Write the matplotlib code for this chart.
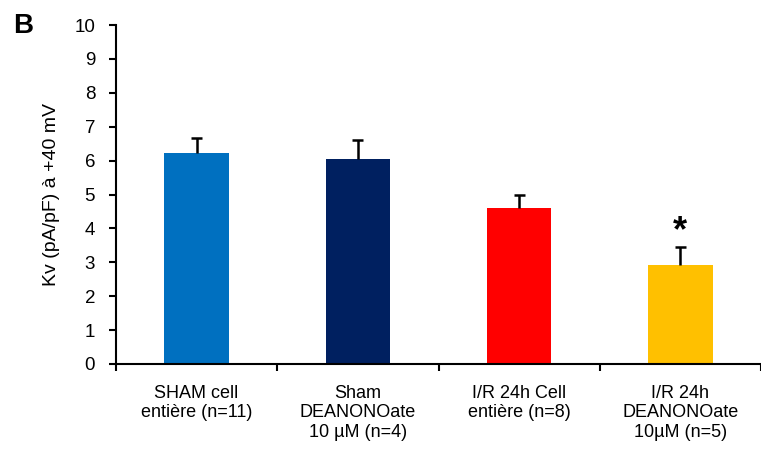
import matplotlib
matplotlib.use("Agg")
import matplotlib.pyplot as plt
import numpy as np

plt.rcParams['font.family'] = ['Liberation Sans', 'DejaVu Sans']

categories = [
    "SHAM cell\nentière (n=11)",
    "Sham\nDEANONOate\n10 µM (n=4)",
    "I/R 24h Cell\nentière (n=8)",
    "I/R 24h\nDEANONOate\n10µM (n=5)",
]
means = [6.22, 6.05, 4.60, 2.92]
sem = [0.45, 0.56, 0.39, 0.53]
colors = ["#0070C0", "#002060", "#FF0000", "#FFC000"]
significant = [False, False, False, True]

W, H = 761, 459
fig = plt.figure(figsize=(W / 100, H / 100), dpi=100)
ax = fig.add_axes([116 / W, 95 / H, (W - 116) / W, 339 / H])

x = np.arange(len(categories))
means_a = np.array(means)
sem_a = np.array(sem)
ax.bar(x, means_a, width=0.4, color=colors, edgecolor="none", zorder=2)

# one-sided (upper) error bars
cap_half = 0.034
ax.vlines(x, means_a, means_a + sem_a, color="black", linewidth=1.8, zorder=3)
ax.hlines(means_a + sem_a, x - cap_half, x + cap_half, color="black",
          linewidth=1.8, zorder=3)

for xi, m, s, sig in zip(x, means_a, sem_a, significant):
    if sig:
        ax.text(xi, m + s + 0.45, "*", ha="center", va="center",
                fontsize=26, fontweight="bold")

ax.set_xlim(-0.5, (W - 116) / 164.25 - 0.5)
ax.set_ylim(0, 10)
ax.set_yticks(range(0, 11))
ax.set_xticks(np.arange(-0.5, len(categories) - 0.5 + 0.01, 1.0))
ax.set_xticklabels([])
ax.set_xticks(x, minor=True)
ax.set_xticklabels(categories, minor=True, fontsize=13)
ax.tick_params(axis="x", which="minor", length=0, pad=15)
ax.tick_params(axis="x", which="major", length=5, width=1.5, direction="out")
ax.tick_params(axis="y", length=5, width=1.5, direction="out", labelsize=13.5, pad=10)
for lbl in ax.get_xticklabels(minor=True):
    lbl.set_linespacing(1.2)

for side in ["top", "right"]:
    ax.spines[side].set_visible(False)
for side in ["left", "bottom"]:
    ax.spines[side].set_linewidth(1.5)

ax.set_ylabel("Kv (pA/pF) à +40 mV", fontsize=14, labelpad=10)
fig.text(13 / W, 1 - 33 / H, "B", fontsize=20, fontweight="bold", ha="left", va="baseline")

fig.savefig("out.png", dpi=100)
